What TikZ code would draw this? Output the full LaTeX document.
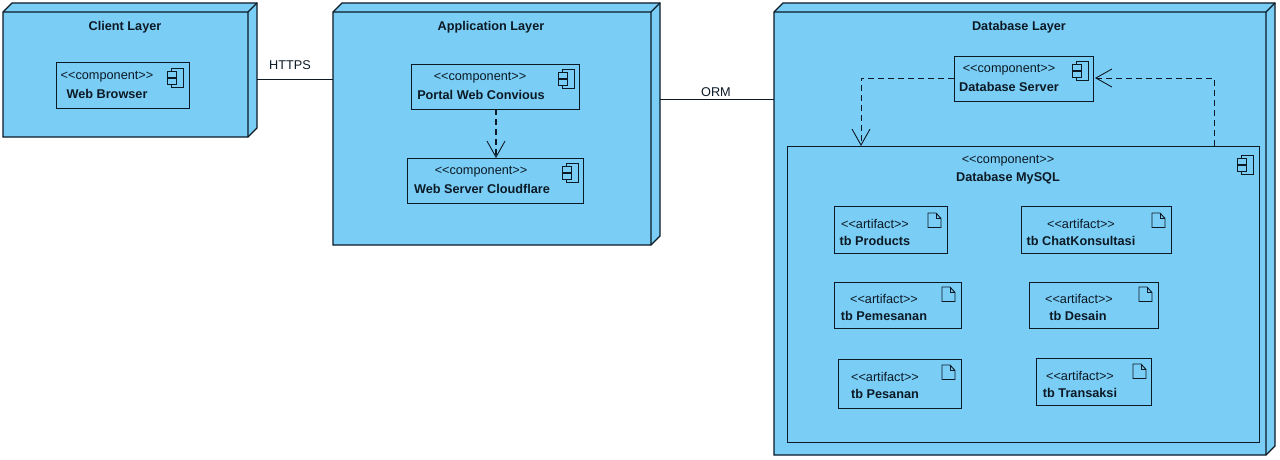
\documentclass[tikz,border=0pt]{standalone}
\usepackage{fontspec}
\setmainfont{Liberation Sans}
\usetikzlibrary{arrows.meta}
\definecolor{nodeblue}{HTML}{7ACDF5}
\definecolor{ink}{HTML}{0C1A26}
\tikzset{
  x=1pt, y=-1pt,
  every node/.style={inner sep=0pt, outer sep=0pt, text=ink, font=\fontsize{12.7}{14}\selectfont},
  layerline/.style={draw=ink, line width=1.1pt, fill=nodeblue, line join=miter},
  shapeline/.style={draw=ink, line width=0.95pt, fill=nodeblue, line join=miter},
  iconline/.style={draw=ink, line width=0.95pt, fill=nodeblue},
  plainlabel/.style={anchor=center},
  namelabel/.style={anchor=center, font=\fontsize{12.7}{14}\selectfont\bfseries},
  link/.style={draw=ink, line width=1pt},
  dep/.style={draw=ink, line width=0.9pt, dash pattern=on 6pt off 4pt, -{Straight Barb[length=16pt,width=18pt,line width=0.9pt]}},
  depheavy/.style={dep, line width=1.7pt},
}
% layer: name, x1, y1, x2, y2 (front face), title x
\newcommand{\layerbox}[6]{%
  \draw[layerline] (#2,#3) -- ({#2+9},{#3-9}) -- ({#4+9},{#3-9}) -- ({#4+9},{#5-9}) -- (#4,#5) -- (#2,#5) -- cycle;
  \draw[draw=ink, line width=1.1pt] (#2,#3) -- (#4,#3) -- (#4,#5) (#4,#3) -- ({#4+9},{#3-9});
  \node[minimum width={#4-#2+9}, minimum height={#5-#3+9}, anchor=north west] (#1) at (#2,{#3-9}) {};
  \node[namelabel] (#1title) at (#6,{#3+15.2}) {#1 Layer};
}
% box: name, x1, y1, x2, y2
\newcommand{\boxnode}[5]{%
  \node[shapeline, minimum width={#4-#2}, minimum height={#5-#3}, anchor=north west] (#1) at (#2,#3) {};
}
\newcommand{\compicon}[2]{%
  \draw[iconline] ({#1+4},#2) rectangle ({#1+16},{#2+19});
  \draw[iconline] (#1,{#2+3.5}) rectangle ({#1+9},{#2+9});
  \draw[iconline] (#1,{#2+10.5}) rectangle ({#1+9},{#2+16});
}
\newcommand{\docicon}[2]{%
  \draw[iconline, line join=miter] (#1,#2) -- ({#1+8},#2) -- ({#1+13},{#2+5.5}) -- ({#1+13},{#2+14.5}) -- (#1,{#2+14.5}) -- cycle;
  \draw[draw=ink, line width=0.95pt] ({#1+8},#2) -- ({#1+8},{#2+5.5}) -- ({#1+13},{#2+5.5});
}
% labels: name, stereotype x, stereotype y, name x, name y, stereotype, title
\newcommand{\boxtext}[7]{%
  \node[plainlabel] (#1st) at (#2,{#3+1}) {<{}<#6>{}>};
  \node[namelabel] (#1nm) at (#4,{#5+1}) {#7};
}
\begin{document}
\begin{tikzpicture}
\useasboundingbox (0,0) rectangle (1280,460);
\fill[white] (0,0) rectangle (1280,460);

% layers
\layerbox{Client}{3}{12}{248}{137}{125}
\layerbox{Application}{333}{12}{651}{245}{491}
\layerbox{Database}{774}{12}{1266}{455}{1019}

% client
\boxnode{browser}{56}{62}{189}{108}
\compicon{167}{68}
\boxtext{browser}{107}{76}{107}{93}{component}{Web Browser}

% application
\boxnode{portal}{411}{64}{579}{109}
\compicon{558}{69}
\boxtext{portal}{480}{77}{481}{94}{component}{Portal Web Convious}
\boxnode{cloudflare}{407}{158}{583}{203}
\compicon{562}{163}
\boxtext{cloudflare}{481}{171}{482}{188}{component}{Web Server Cloudflare}

% database
\boxnode{dbserver}{954}{56}{1093}{101}
\compicon{1072}{61}
\boxtext{dbserver}{1009}{69}{1009}{86}{component}{Database Server}
\boxnode{mysql}{787}{146}{1259}{442}
\compicon{1237}{155}
\boxtext{mysql}{1008}{160}{1008}{177}{component}{Database MySQL}

\boxnode{products}{834}{206}{947}{253}
\docicon{928}{213}
\boxtext{products}{875}{223}{875}{240}{artifact}{tb Products}
\boxnode{chat}{1021}{206}{1171}{253}
\docicon{1152}{213}
\boxtext{chat}{1081}{223}{1081}{240}{artifact}{tb ChatKonsultasi}
\boxnode{pemesanan}{834}{282}{961}{328}
\docicon{942}{287}
\boxtext{pemesanan}{884}{298}{884}{315}{artifact}{tb Pemesanan}
\boxnode{desain}{1029}{282}{1158}{328}
\docicon{1139}{287}
\boxtext{desain}{1079}{298}{1078}{315}{artifact}{tb Desain}
\boxnode{pesanan}{838}{359}{961}{408}
\docicon{942}{365}
\boxtext{pesanan}{885}{376}{885}{393}{artifact}{tb Pesanan}
\boxnode{transaksi}{1036}{358}{1151}{405}
\docicon{1133}{364}
\boxtext{transaksi}{1080}{375}{1080}{392}{artifact}{tb Transaksi}

% connectors
\coordinate (httpsrow) at (0,79.5);
\coordinate (ormrow) at (0,99);
\coordinate (depcol) at (496,0);
\coordinate (serverrow) at (0,78);
\coordinate (leftcol) at (861,0);
\coordinate (rightcol) at (1214,0);
\coordinate (tiprow) at (1095,78);

\draw[link] (Client.east |- httpsrow) -- (Application.west |- httpsrow);
\node[plainlabel] (httpslabel) at (290,65) {HTTPS};
\draw[link] (Application.east |- ormrow) -- (Database.west |- ormrow);
\node[plainlabel] (ormlabel) at (716,92) {ORM};

\draw[depheavy] (portal.south -| depcol) -- (cloudflare.north -| depcol);
\draw[dep] (dbserver.west |- serverrow) -- (leftcol |- serverrow) -- (mysql.north -| leftcol);
\draw[dep] (mysql.north -| rightcol) -- (rightcol |- serverrow) -- (tiprow);
\end{tikzpicture}
\end{document}
